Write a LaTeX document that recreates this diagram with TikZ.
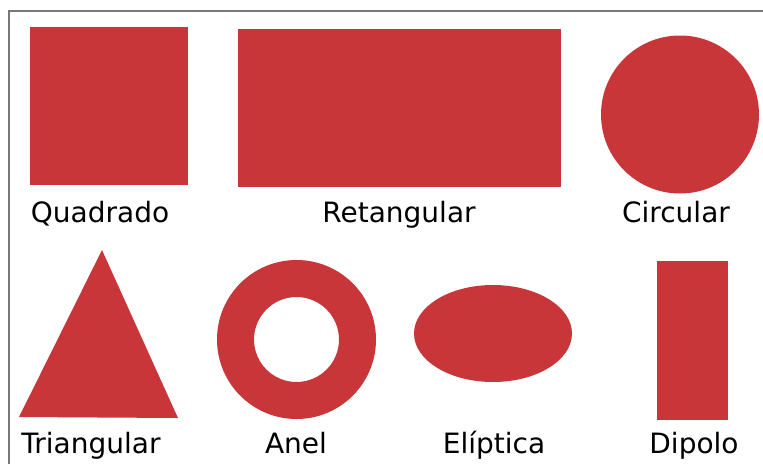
\documentclass[tikz,border=0pt]{standalone}
\usepackage{fontspec}
\setmainfont{DejaVu Sans}
\usepackage{xcolor}
\usetikzlibrary{shapes.geometric}
\definecolor{formred}{RGB}{200,54,57}
\definecolor{framegray}{RGB}{120,120,120}

\begin{document}
\begin{tikzpicture}[x=1pt,y=-1pt,
  formshape/.style={fill=formred,draw=none,inner sep=0pt,outer sep=0pt},
  lbl/.style={anchor=base,inner sep=0pt,font=\fontsize{28}{32}\selectfont}]
\useasboundingbox (0,0) rectangle (763,464);
\fill[white] (0,0) rectangle (763,464);
\draw[framegray,line width=2pt] (9,464) -- (9,11) -- (763,11);
% linha de cima
\node[formshape,minimum width=158pt,minimum height=158pt] (quad) at (109,106) {};
\node[formshape,minimum width=323pt,minimum height=158pt] (ret) at (399.5,108) {};
\node[formshape,circle,minimum size=158pt] (circ) at (680,114.5) {};
\node[lbl] (tquad) at (100,222) {Quadrado};
\node[lbl] (tret) at (399,222) {Retangular};
\node[lbl] (tcirc) at (676,222) {Circular};
% linha de baixo
\fill[formred] (102,250) coordinate (tri) -- (19,417) -- (178,418) -- cycle;
\coordinate (anel) at (296.5,339.5);
\fill[formred,even odd rule] (anel) circle (79.5) (anel) circle (42.5);
\node[formshape,ellipse,minimum width=158pt,minimum height=97pt] (elip) at (493,333.5) {};
\node[formshape,minimum width=71pt,minimum height=159pt] (dip) at (692.5,340.5) {};
\node[lbl] (ttri) at (91,453) {Triangular};
\node[lbl] (tanel) at (296,453) {Anel};
\node[lbl] (telip) at (494,453) {Elíptica};
\node[lbl] (tdip) at (694,453) {Dipolo};
\end{tikzpicture}
\end{document}
